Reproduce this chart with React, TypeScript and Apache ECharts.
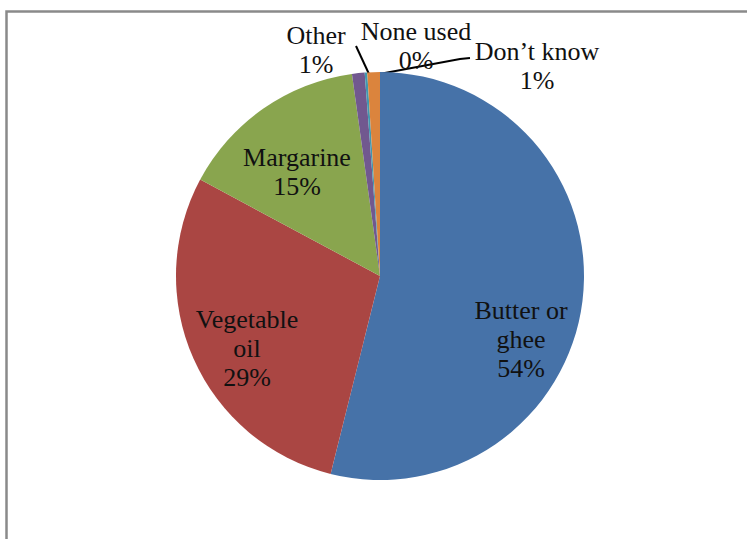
import React, { useEffect, useRef } from 'react';
import * as echarts from 'echarts';

// ---- data ----
const categories = ['Butter or\nghee', 'Vegetable\noil', 'Margarine', 'Other', 'None used', 'Don\u2019t know'];
const values = [54, 29, 15, 1, 0.2, 1];
const insideLabel = [true, true, true, false, false, false];
const showLeader = [false, false, false, true, false, true];

// ---- styling / layout ----
const colors = ['#4672A8', '#AA4643', '#89A54E', '#71588F', '#4198AF', '#DB843D'];
const labelPos: number[][] = [
  [521, 339],
  [247, 348],
  [297, 172],
  [316, 50],
  [416, 46],
  [537, 66],
];
const leaderPts: (number[][] | null)[] = [
  null,
  null,
  null,
  [[369, 74], [356, 46]],
  null,
  [[374, 75], [460, 59], [470, 58]],
];

export default function App() {
  const ref = useRef<HTMLDivElement>(null);
  useEffect(() => {
    if (!ref.current) return;
    const chart = echarts.init(ref.current, undefined, { renderer: 'svg' });
    const font = { fontFamily: '"Liberation Serif", "Times New Roman", serif', fontSize: 26, color: '#111', lineHeight: 29 };
    chart.setOption({
      animation: false,
      backgroundColor: '#ffffff',
      graphic: [
        {
          type: 'rect',
          shape: { x: 6.5, y: 11.5, width: 800, height: 600 },
          style: { fill: 'none', stroke: '#8a8a8a', lineWidth: 2.5 },
          silent: true,
        },
      ],
      series: [
        {
          type: 'pie',
          center: [380, 276],
          radius: 204,
          startAngle: 90,
          clockwise: true,
          avoidLabelOverlap: false,
          minAngle: 0,
          itemStyle: { borderWidth: 0 },
          label: {
            ...font,
            formatter: (p: any) => `${p.name}\n${Math.round(p.value)}%`,
          },
          labelLine: { lineStyle: { color: '#000', width: 2 }, length: 10, length2: 10 },
          labelLayout: (params: any) => {
            const i = params.dataIndex;
            const out: any = {
              x: labelPos[i][0],
              y: labelPos[i][1],
              align: 'center',
              verticalAlign: 'middle',
            };
            if (leaderPts[i]) out.labelLinePoints = leaderPts[i];
            return out;
          },
          data: categories.map((c, i) => ({
            name: c,
            value: values[i],
            itemStyle: { color: colors[i] },
            label: { position: insideLabel[i] ? 'inside' : 'outside', align: 'center' },
            labelLine: { show: showLeader[i] },
          })),
        },
      ],
    });
    return () => chart.dispose();
  }, []);
  return <div ref={ref} style={{ position: 'fixed', left: 0, top: 0, width: 747, height: 539 }} />;
}
